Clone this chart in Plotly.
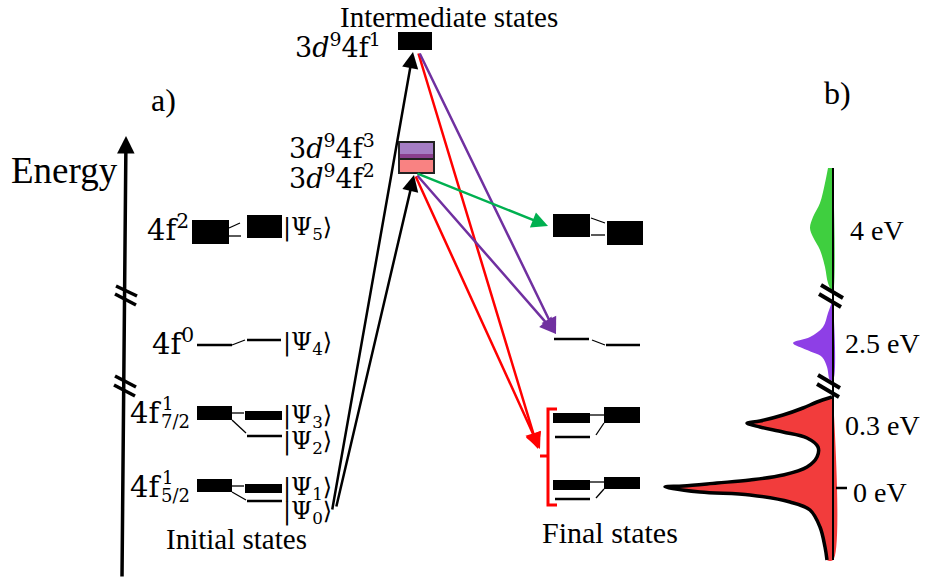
import plotly.graph_objects as go

W, H = 931, 584
SERIF = "Liberation Serif, Times New Roman, serif"
MATH = "DejaVu Serif, serif"

# ---------------- panel a: level scheme (vertical = energy, page px) ----------------
# filled blocks: (x0, x1, y_top, y_bottom)
initial_blocks = [(192, 229, 220, 244), (247, 282, 215, 238),      # 4f2 -> |Psi5>
                  (197, 232, 406, 420), (245, 282, 411, 420),      # 4f1 7/2 -> |Psi3>
                  (197, 232, 479, 492), (245, 282, 484, 493)]      # 4f1 5/2 -> |Psi1>
initial_lines = [(197, 232, 345), (247, 281, 340),                 # 4f0 -> |Psi4>
                 (247, 282, 436), (247, 282, 501)]                 # |Psi2>, |Psi0>
initial_links = [(229, 228, 240, 223), (229, 236, 241, 236),
                 (232, 345, 245, 340),
                 (232, 413, 244, 413), (232, 420, 246, 433),
                 (232, 486, 244, 486), (232, 492, 246, 500)]

final_blocks = [(553, 590, 214, 237), (607, 643, 221, 245),
                (553, 590, 413, 423), (604, 640, 407, 423),
                (553, 590, 480, 490), (604, 640, 477, 489)]
final_lines = [(554, 589, 339), (606, 640, 345), (555, 590, 437), (555, 590, 499)]
final_links = [(591, 218, 605, 223), (591, 235, 605, 235),
               (592, 340, 605, 345),
               (590, 415, 604, 415), (604, 423, 596, 435),
               (590, 482, 604, 482), (604, 489, 596, 498)]

psi_labels = ["|Ψ<sub>5</sub>⟩", "|Ψ<sub>4</sub>⟩", "|Ψ<sub>3</sub>⟩",
              "|Ψ<sub>2</sub>⟩", "|Ψ<sub>1</sub>⟩", "|Ψ<sub>0</sub>⟩"]
psi_y = [228, 343, 416, 442, 488, 512]

# transitions: (tail x, tail y, head x, head y, colour)
transitions = [(332, 511, 413, 52, "black"), (336, 508, 414, 175, "black"),
               (418, 52, 538, 449, "#ff0000"), (419, 52, 556, 334, "#7030a0"),
               (416, 173, 548, 226, "#00b050"), (416, 174, 556, 334, "#7030a0"),
               (415, 175, 540, 449, "#ff0000")]

# ---------------- panel b: spectrum (left edge of filled peaks, page px) ----------------
green_y = [168, 183, 203, 217, 228, 237, 250, 267, 283, 291]
green_x = [828, 825, 820, 813, 810, 813, 820, 825, 828, 832]
purple_y = [302, 313, 327, 337, 343, 350, 357, 367, 380]
purple_x = [832, 828, 823, 810, 793, 807, 822, 827, 830]
red_y = [397, 402, 408, 415, 421, 423, 427, 432, 438, 447, 457, 467, 475, 480,
         483, 486, 487, 492, 495, 502, 510, 527, 547, 560]
red_x = [832, 817, 803, 783, 760, 747, 760, 783, 807, 818, 817, 807, 783, 750,
         717, 683, 665, 700, 750, 790, 810, 820, 825, 827]
ev_labels = ["4 eV", "2.5 eV", "0.3 eV", "0 eV"]
ev_y = [230, 343, 425, 492]
ev_x = [849, 844, 844, 852]

fig = go.Figure()

AX = 833
fig.add_trace(go.Scatter(x=green_x + [AX, AX], y=green_y + [green_y[-1], green_y[0]],
                         fill="toself", fillcolor="#3fcf3f", line=dict(width=0, shape="spline"),
                         mode="lines", hoverinfo="skip"))
fig.add_trace(go.Scatter(x=purple_x + [AX, AX], y=purple_y + [purple_y[-1], purple_y[0]],
                         fill="toself", fillcolor="#8e3fe6", line=dict(width=0, shape="spline"),
                         mode="lines", hoverinfo="skip"))
fig.add_trace(go.Scatter(x=red_x + [AX, AX], y=red_y + [red_y[-1], red_y[0]],
                         fill="toself", fillcolor="#f23c3c", line=dict(width=0, shape="spline"),
                         mode="lines", hoverinfo="skip"))
fig.add_trace(go.Scatter(x=red_x, y=red_y, mode="lines",
                         line=dict(color="black", width=3.5, shape="spline"), hoverinfo="skip"))

shapes = []
def line(x0, y0, x1, y1, w=1.5, color="black", dash="solid"):
    shapes.append(dict(type="line", x0=x0, y0=y0, x1=x1, y1=y1, xref="x", yref="y",
                       line=dict(color=color, width=w, dash=dash), layer="above"))
def rect(x0, x1, y0, y1, fill="black", lc="black", lw=0):
    shapes.append(dict(type="rect", x0=x0, x1=x1, y0=y0, y1=y1, xref="x", yref="y",
                       fillcolor=fill, line=dict(color=lc, width=lw), layer="above"))

for b in initial_blocks + final_blocks:
    rect(*b)
for (x0, x1, y) in initial_lines + final_lines:
    line(x0, y, x1, y, w=2.5)
for (x0, y0, x1, y1) in initial_links + final_links:
    line(x0, y0, x1, y1, w=1.3)

# intermediate states
rect(398, 432, 32, 50)
rect(399, 434, 142, 155, fill="#a57dc4")
rect(399, 434, 154, 159, fill="#8a3f8e")
rect(399, 434, 159, 173, fill="#f98282")
line(399, 159, 434, 159, w=2, color="#222")
rect(399, 434, 142, 173, fill="rgba(0,0,0,0)", lc="#222", lw=2)

# red bracket of final 4f1 states
shapes.append(dict(type="path", path="M 557 409 L 548 409 L 548 505 L 557 505",
                   xref="x", yref="y", line=dict(color="#ff0000", width=3), layer="above"))
line(540, 456, 548, 456, w=3, color="#ff0000")

# energy axis breaks
for (x0, y0, x1, y1) in [(116, 286, 137, 296), (115, 294, 136, 305),
                         (115, 376, 136, 387), (114, 385, 135, 396)]:
    line(x0, y0, x1, y1, w=3.5)

# panel b axis
line(AX, 168, AX, 560, w=2)
for (x0, y0, x1, y1) in [(821, 285, 843, 298), (819, 294, 841, 307),
                         (818, 375, 840, 388), (817, 384, 839, 397)]:
    line(x0, y0, x1, y1, w=4)
line(836, 488, 847, 488, w=2.5)

ann = []
def text(x, y, s, size, xanchor="center", font=SERIF, yanchor="middle"):
    ann.append(dict(x=x, y=y, xref="x", yref="y", text=s, showarrow=False,
                    xanchor=xanchor, yanchor=yanchor, borderpad=0,
                    font=dict(family=font, size=size, color="black")))

# energy axis arrow
ann.append(dict(x=126, y=136, ax=122, ay=578, xref="x", yref="y", axref="x", ayref="y",
                text="", showarrow=True, arrowhead=2, arrowsize=1.0, arrowwidth=3.5,
                arrowcolor="black", standoff=0, startstandoff=0))
for (x0, y0, x1, y1, c) in transitions:
    ann.append(dict(x=x1, y=y1, ax=x0, ay=y0, xref="x", yref="y", axref="x", ayref="y",
                    text="", showarrow=True, arrowhead=2, arrowsize=1.3, arrowwidth=2.5,
                    arrowcolor=c, standoff=0, startstandoff=0))

text(10, 170, "Energy", 37, xanchor="left")
text(163, 100, "a)", 32)
text(837, 93, "b)", 32)
text(449, 17, "Intermediate states", 29)
text(236, 539, "Initial states", 29)
text(610, 532, "Final states", 30)

text(382, 45, "3<i>d</i><sup>9</sup>4f<sup>1</sup>", 27, xanchor="right", font=MATH)
text(376, 146, "3<i>d</i><sup>9</sup>4f<sup>3</sup>", 27, xanchor="right", font=MATH)
text(376, 176, "3<i>d</i><sup>9</sup>4f<sup>2</sup>", 27, xanchor="right", font=MATH)

text(190, 228, "4f<sup>2</sup>", 29, xanchor="right", font=MATH)
text(195, 342, "4f<sup>0</sup>", 29, xanchor="right", font=MATH)
for yc, sub in [(413, "7/2"), (487, "5/2")]:
    text(162, yc, "4f", 29, xanchor="right", font=MATH)
    text(161, yc - 10, "1", 18, xanchor="left", font=MATH)
    text(160, yc + 8, sub, 18, xanchor="left", font=MATH)

for s, y in zip(psi_labels, psi_y):
    text(282, y, s, 24, xanchor="left", font=MATH)

for s, y, x in zip(ev_labels, ev_y, ev_x):
    text(x, y, s, 28, xanchor="left")

fig.update_layout(
    width=W, height=H, margin=dict(l=0, r=0, t=0, b=0),
    paper_bgcolor="white", plot_bgcolor="white", showlegend=False,
    xaxis=dict(range=[0, W], visible=False, fixedrange=True),
    yaxis=dict(range=[H, 0], visible=False, fixedrange=True),
    shapes=shapes, annotations=ann,
)
fig.write_html("out.html", config={"displayModeBar": False},
               post_script="document.body.style.margin='0';document.body.style.padding='0';")
